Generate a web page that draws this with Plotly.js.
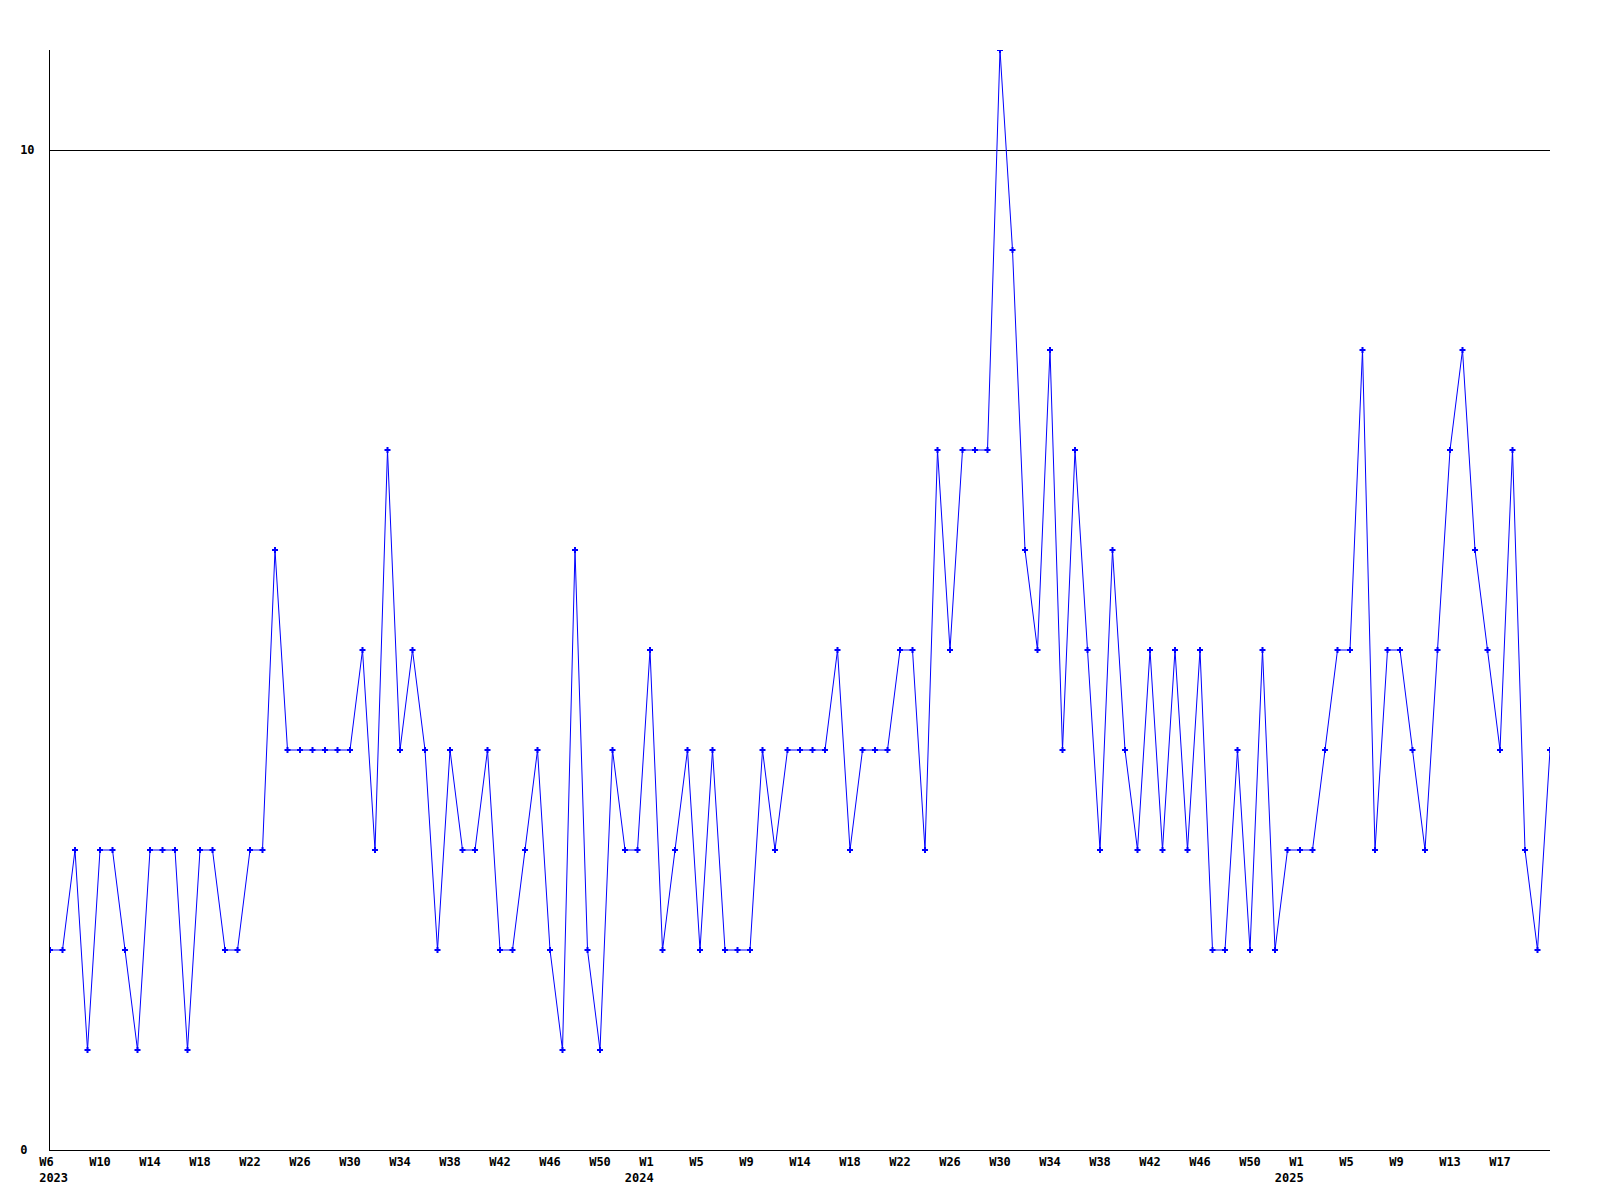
<!DOCTYPE html>
<html>
<head>
<meta charset="utf-8">
<script src="https://cdn.plot.ly/plotly-3.0.1.min.js"></script>
<style>
  html, body { margin: 0; padding: 0; background: #ffffff; }
  #chart { width: 1600px; height: 1200px; }
</style>
</head>
<body>
<div id="chart"></div>
<script>
// Weekly counts, 2023 W6 through 2025 W20 (one value per week)
const weeklyValues = [
  2, 2, 3, 1, 3, 3, 2, 1, 3, 3,
  3, 1, 3, 3, 2, 2, 3, 3, 6, 4,
  4, 4, 4, 4, 4, 5, 3, 7, 4, 5,
  4, 2, 4, 3, 3, 4, 2, 2, 3, 4,
  2, 1, 6, 2, 1, 4, 3, 3, 5, 2,
  3, 4, 2, 4, 2, 2, 2, 4, 3, 4,
  4, 4, 4, 5, 3, 4, 4, 4, 5, 5,
  3, 7, 5, 7, 7, 7, 11, 9, 6, 5,
  8, 4, 7, 5, 3, 6, 4, 3, 5, 3,
  5, 3, 5, 2, 2, 4, 2, 5, 2, 3,
  3, 3, 4, 5, 5, 8, 3, 5, 5, 4,
  3, 5, 7, 8, 6, 5, 4, 7, 3, 2,
  4
];

// Tick labels, every fourth week
const tickWeeks = ["W6","W10","W14","W18","W22","W26","W30","W34","W38","W42","W46","W50",
                   "W1","W5","W9","W14","W18","W22","W26","W30","W34","W38","W42","W46","W50",
                   "W1","W5","W9","W13","W17"];
const tickYears = ["2023","","","","","","","","","","","",
                   "2024","","","","","","","","","","","","",
                   "2025","","","",""];
const tickStep = 4;

const yTickValues = [0, 10];
const yTickLabels = ["0\u00a0", "10"];

const NB = "\u00a0";
const xIndex = weeklyValues.map((_, i) => i);
const tickPositions = tickWeeks.map((_, i) => i * tickStep);
// labels in the reference are left-aligned; pad short ones so centred text lands in the same place
const padWeek = w => (w.length < 3 ? w + NB : w);
const padYear = (y, i) => (i === 0 ? NB + y : y + NB + NB + NB);
const tickText = tickWeeks.map((w, i) =>
  tickYears[i] ? padWeek(w) + "<br>" + padYear(tickYears[i], i) : padWeek(w));

const monoFont = { family: "DejaVu Sans Mono, monospace", size: 12, color: "#000000", weight: "bold" };

const trace = {
  type: "scatter",
  mode: "lines+markers",
  x: xIndex,
  y: weeklyValues,
  line: { color: "#0000ff", width: 1 },
  marker: { symbol: "cross", size: 5, color: "#0000ff" },
  cliponaxis: true,
  hoverinfo: "skip"
};

const layout = {
  width: 1600,
  height: 1200,
  margin: { l: 50, r: 50, t: 50, b: 50 },
  paper_bgcolor: "#ffffff",
  plot_bgcolor: "#ffffff",
  showlegend: false,
  font: monoFont,
  xaxis: {
    range: [0, weeklyValues.length - 1],
    tickmode: "array",
    tickvals: tickPositions,
    ticktext: tickText,
    ticks: "",
    showgrid: false,
    zeroline: false,
    showline: true,
    linecolor: "#000000",
    linewidth: 1,
    tickfont: monoFont,
    ticklabelstandoff: 1,
    fixedrange: true
  },
  yaxis: {
    range: [0, 11],
    tickmode: "array",
    tickvals: yTickValues,
    ticktext: yTickLabels,
    ticks: "",
    showgrid: true,
    gridcolor: "#000000",
    gridwidth: 1,
    zeroline: false,
    showline: true,
    linecolor: "#000000",
    linewidth: 1,
    tickfont: monoFont,
    ticklabelstandoff: 12,
    fixedrange: true
  }
};

Plotly.newPlot("chart", [trace], layout, { staticPlot: true, displayModeBar: false });
</script>
</body>
</html>
